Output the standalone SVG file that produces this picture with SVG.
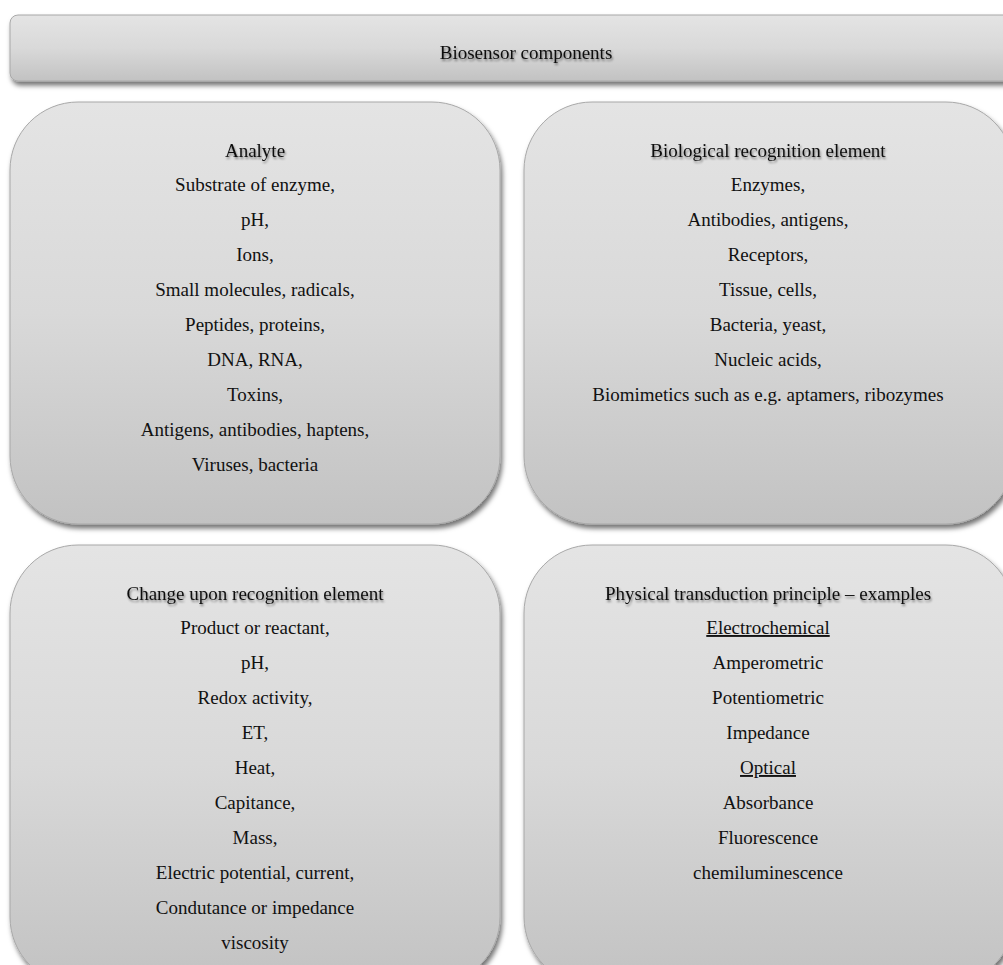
<svg xmlns="http://www.w3.org/2000/svg" width="1003" height="965" viewBox="0 0 1003 965">
<defs>
<linearGradient id="g" x1="0" y1="0" x2="0" y2="1">
<stop offset="0" stop-color="#e4e4e4"/>
<stop offset="0.5" stop-color="#d9d9d9"/>
<stop offset="1" stop-color="#c2c2c2"/>
</linearGradient>
<filter id="sh" x="-10%" y="-10%" width="125%" height="130%">
<feDropShadow dx="2" dy="4" stdDeviation="2.5" flood-color="#000" flood-opacity="0.55"/>
</filter>
<filter id="tsh" x="-10%" y="-50%" width="120%" height="200%">
<feDropShadow dx="1" dy="2" stdDeviation="1.2" flood-color="#000" flood-opacity="0.45"/>
</filter>
</defs>
<style>
.box{fill:url(#g);stroke:#a8a8a8;stroke-width:1;filter:url(#sh)}
text{font-family:"Liberation Serif","Times New Roman",serif;font-size:19px;fill:#111;text-anchor:middle}
.t{filter:url(#tsh)}
.u{text-decoration:underline}
</style>
<rect width="1003" height="965" fill="#fff"/>
<g id="header">
<rect class="box" x="10" y="15" width="1010" height="66" rx="8"/>
<text class="t" x="526" y="59">Biosensor components</text>
</g>
<g id="analyte">
<rect class="box" x="10" y="102" width="490" height="422" rx="68"/>
<text class="t" x="255" y="157">Analyte</text>
<text x="255" y="191">Substrate of enzyme,</text>
<text x="255" y="226">pH,</text>
<text x="255" y="261">Ions,</text>
<text x="255" y="296">Small molecules, radicals,</text>
<text x="255" y="331">Peptides, proteins,</text>
<text x="255" y="366">DNA, RNA,</text>
<text x="255" y="401">Toxins,</text>
<text x="255" y="436">Antigens, antibodies, haptens,</text>
<text x="255" y="471">Viruses, bacteria</text>
</g>
<g id="recognition">
<rect class="box" x="524" y="102" width="490" height="422" rx="68"/>
<text class="t" x="768" y="157">Biological recognition element</text>
<text x="768" y="191">Enzymes,</text>
<text x="768" y="226">Antibodies, antigens,</text>
<text x="768" y="261">Receptors,</text>
<text x="768" y="296">Tissue, cells,</text>
<text x="768" y="331">Bacteria, yeast,</text>
<text x="768" y="366">Nucleic acids,</text>
<text x="768" y="401">Biomimetics such as e.g. aptamers, ribozymes</text>
</g>
<g id="change">
<rect class="box" x="10" y="545" width="490" height="440" rx="68"/>
<text class="t" x="255" y="600">Change upon recognition element</text>
<text x="255" y="634">Product or reactant,</text>
<text x="255" y="669">pH,</text>
<text x="255" y="704">Redox activity,</text>
<text x="255" y="739">ET,</text>
<text x="255" y="774">Heat,</text>
<text x="255" y="809">Capitance,</text>
<text x="255" y="844">Mass,</text>
<text x="255" y="879">Electric potential, current,</text>
<text x="255" y="914">Condutance or impedance</text>
<text x="255" y="949">viscosity</text>
</g>
<g id="transduction">
<rect class="box" x="524" y="545" width="490" height="440" rx="68"/>
<text class="t" x="768" y="600">Physical transduction principle – examples</text>
<text class="u" x="768" y="634">Electrochemical</text>
<text x="768" y="669">Amperometric</text>
<text x="768" y="704">Potentiometric</text>
<text x="768" y="739">Impedance</text>
<text class="u" x="768" y="774">Optical</text>
<text x="768" y="809">Absorbance</text>
<text x="768" y="844">Fluorescence</text>
<text x="768" y="879">chemiluminescence</text>
</g>
<g id="connectors"></g>
</svg>
